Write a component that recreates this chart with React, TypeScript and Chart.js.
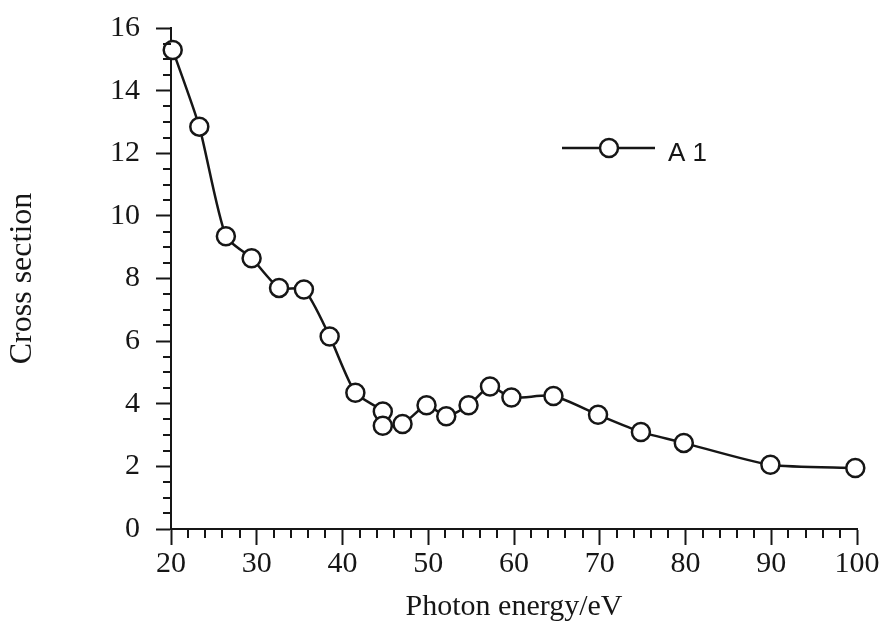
import React, { useEffect, useRef } from "react";
import { Chart, registerables } from "chart.js";

Chart.register(...registerables);

const energy = [20.2, 23.3, 26.4, 29.4, 32.6, 35.5, 38.5, 41.5, 44.7, 44.7, 47.0, 49.8, 52.1, 54.7, 57.2, 59.7, 64.6, 69.8, 74.8, 79.8, 89.9, 99.8];
const crossSection = [15.3, 12.85, 9.35, 8.65, 7.7, 7.65, 6.15, 4.35, 3.75, 3.3, 3.35, 3.95, 3.6, 3.95, 4.55, 4.2, 4.25, 3.65, 3.1, 2.75, 2.05, 1.95];
const seriesName = "A 1";
const xTitle = "Photon energy/eV";
const yTitle = "Cross section";
const xRange = [20, 100];
const yRange = [0, 16];
const xMajorStep = 10;
const xMinorStep = 2;
const yMajorStep = 2;
const yMinorStep = 0.5;

const INK = "#161616";
const SERIF = "'Liberation Serif', 'Times New Roman', serif";

const minorTicks = {
  id: "minorTicks",
  afterDraw(chart: any) {
    const { ctx, scales } = chart;
    const xs = scales.x;
    const ys = scales.y;
    ctx.save();
    ctx.strokeStyle = INK;
    ctx.lineWidth = 2;
    ctx.beginPath();
    for (let v = yRange[0]; v <= yRange[1] + 1e-9; v += yMinorStep) {
      if (Math.abs(v / yMajorStep - Math.round(v / yMajorStep)) < 1e-6) continue;
      const py = Math.round(ys.getPixelForValue(v));
      ctx.moveTo(xs.left - 8, py);
      ctx.lineTo(xs.left, py);
    }
    for (let v = xRange[0]; v <= xRange[1] + 1e-9; v += xMinorStep) {
      if (Math.abs(v / xMajorStep - Math.round(v / xMajorStep)) < 1e-6) continue;
      const px = Math.round(xs.getPixelForValue(v));
      ctx.moveTo(px, ys.bottom);
      ctx.lineTo(px, ys.bottom + 9);
    }
    ctx.stroke();
    ctx.restore();
  },
};

const legendPlugin = {
  id: "customLegend",
  afterDraw(chart: any) {
    const { ctx } = chart;
    const x0 = 562, x1 = 655, y = 148, cx = 609;
    ctx.save();
    ctx.strokeStyle = INK;
    ctx.lineWidth = 2.5;
    ctx.beginPath();
    ctx.moveTo(x0, y);
    ctx.lineTo(x1, y);
    ctx.stroke();
    ctx.beginPath();
    ctx.arc(cx, y, 9, 0, Math.PI * 2);
    ctx.fillStyle = "#ffffff";
    ctx.fill();
    ctx.stroke();
    ctx.fillStyle = INK;
    ctx.font = "26px 'Liberation Sans', Arial, sans-serif";
    ctx.textBaseline = "alphabetic";
    ctx.textAlign = "left";
    ctx.fillText(seriesName, 668, 161);
    ctx.restore();
  },
};

export default function App() {
  const ref = useRef<HTMLCanvasElement>(null);
  useEffect(() => {
    document.body.style.margin = "0";
    const canvas = ref.current!;
    const chart = new Chart(canvas, {
      type: "line",
      data: {
        datasets: [
          {
            label: seriesName,
            data: energy.map((x, i) => ({ x, y: crossSection[i] })),
            borderColor: INK,
            borderWidth: 2.5,
            tension: 0.22,
            pointRadius: 9,
            pointBorderWidth: 2.5,
            pointBorderColor: INK,
            pointBackgroundColor: "#ffffff",
            fill: false,
            clip: false,
          },
        ],
      },
      options: {
        animation: false,
        responsive: false,
        devicePixelRatio: 1,
        layout: { padding: { left: 0, right: 32, top: 28, bottom: 0 } },
        plugins: { legend: { display: false }, tooltip: { enabled: false } },
        scales: {
          x: {
            type: "linear",
            min: xRange[0],
            max: xRange[1],
            afterFit: (s: any) => { s.height = 104; s.paddingLeft = 0; s.paddingRight = 0; },
            ticks: { stepSize: xMajorStep, color: INK, font: { family: SERIF, size: 30 }, padding: 1, maxRotation: 0 },
            grid: { drawOnChartArea: false, drawTicks: true, tickLength: 16, tickWidth: 2, tickColor: INK },
            border: { display: true, color: INK, width: 2 },
            title: { display: true, text: xTitle, color: INK, font: { family: SERIF, size: 30 }, padding: { top: 0, bottom: 8 } },
          },
          y: {
            type: "linear",
            min: yRange[0],
            max: yRange[1],
            afterFit: (s: any) => { s.width = 171; s.paddingTop = 0; s.paddingBottom = 0; },
            ticks: { stepSize: yMajorStep, color: INK, font: { family: SERIF, size: 30 }, padding: 16 },
            grid: { drawOnChartArea: false, drawTicks: true, tickLength: 15, tickWidth: 2, tickColor: INK },
            border: { display: true, color: INK, width: 2 },
            title: { display: true, text: yTitle, color: INK, font: { family: SERIF, size: 32 }, padding: { top: 3, bottom: 0 } },
          },
        },
      },
      plugins: [minorTicks, legendPlugin],
    });
    return () => chart.destroy();
  }, []);
  return (
    <div style={{ width: 889, height: 633, background: "#fff" }}>
      <canvas ref={ref} width={889} height={633} />
    </div>
  );
}
